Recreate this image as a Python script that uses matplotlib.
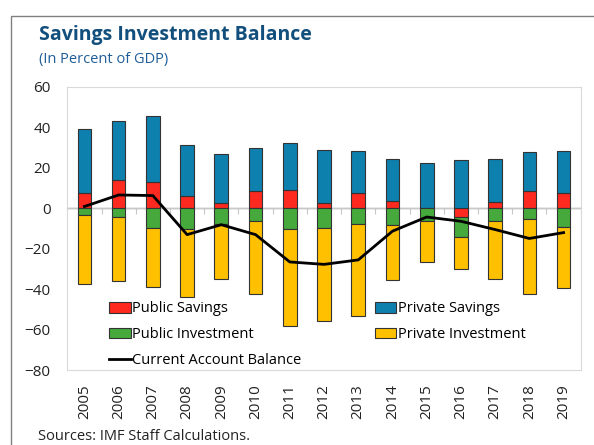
import numpy as np
import matplotlib
matplotlib.use("Agg")
from matplotlib import pyplot as plt
from matplotlib.patches import Rectangle

plt.rcParams['font.family'] = ['Open Sans', 'DejaVu Sans']

years = [str(y) for y in range(2005, 2020)]
public_savings = [7.5, 13.7, 13.0, 5.8, 2.5, 8.5, 9.0, 2.7, 7.5, 3.5, 0.3, -4.5, 3.0, 8.5, 7.5]
private_savings = [31.5, 29.3, 32.5, 25.2, 24.2, 21.0, 23.0, 26.1, 20.7, 20.7, 22.2, 23.8, 21.5, 19.3, 20.7]
public_investment = [-3.5, -4.5, -9.8, -10.1, -7.7, -6.5, -10.1, -9.6, -7.8, -8.5, -6.5, -9.9, -6.5, -5.5, -9.1]
private_investment = [-34.0, -31.4, -29.1, -33.7, -27.1, -35.9, -48.2, -46.2, -45.6, -26.8, -19.9, -15.8, -28.3, -36.9, -30.6]
current_account = [0.8, 6.5, 6.2, -13.1, -8.2, -13.1, -26.6, -27.8, -25.6, -11.4, -4.4, -6.5, -10.6, -15.0, -12.1]

series = [
    ("Public Savings", public_savings, "#ff2a1f"),
    ("Private Savings", private_savings, "#0e80ae"),
    ("Public Investment", public_investment, "#45aa3b"),
    ("Private Investment", private_investment, "#ffc000"),
]

fig = plt.figure(figsize=(5.94, 4.45), dpi=100)
ax = fig.add_axes([67.3 / 594, 1 - 370 / 445, (580.7 - 67.3) / 594, (370 - 86.7) / 445])

x = np.arange(len(years))
pos_base = np.zeros(len(years))
neg_base = np.zeros(len(years))
handles = {}
for name, vals, color in series:
    v = np.array(vals)
    bottom = np.where(v >= 0, pos_base, neg_base)
    b = ax.bar(x, v, width=0.4, bottom=bottom, color=color, edgecolor="#333333",
               linewidth=0.8, label=name, zorder=2)
    handles[name] = b
    pos_base = pos_base + np.where(v >= 0, v, 0)
    neg_base = neg_base + np.where(v < 0, v, 0)

line, = ax.plot(x, current_account, color="black", lw=2, label="Current Account Balance", zorder=3)

ax.axhline(0, color="#c8c8c8", lw=1, zorder=1)
ax.set_xlim(-0.5, len(years) - 0.5)
ax.set_ylim(-80, 60)
ax.set_yticks(range(-80, 61, 20))
ax.set_xticks(x)
ax.set_xticklabels(years, rotation=90)
ax.tick_params(axis='both', length=0, labelsize=11, colors="#222222")
ax.tick_params(axis='x', pad=10)
ax.tick_params(axis='y', pad=12)
for s in ax.spines.values():
    s.set_color("#d9d9d9")

# category ticks sitting on the zero line
sec = ax.secondary_xaxis(80 / 140)
sec.set_xticks(np.arange(0.5, len(years) - 1, 1.0))
sec.set_xticklabels([])
sec.tick_params(direction='in', length=4, color="#c8c8c8")
sec.spines['bottom'].set_visible(False)

hs = [handles["Public Savings"], handles["Public Investment"], line,
      handles["Private Savings"], handles["Private Investment"]]
ls = ["Public Savings", "Public Investment", "Current Account Balance",
      "Private Savings", "Private Investment"]
ax.legend(hs, ls, ncol=2, frameon=False, fontsize=10.5, loc='upper left',
          bbox_to_anchor=(109 / 594, 1 - 301.5 / 445), bbox_transform=fig.transFigure,
          handlelength=1.5, handleheight=0.7, handletextpad=0.1, columnspacing=5.0,
          labelspacing=0.75, borderaxespad=0, borderpad=0)

fig.text(39 / 594, 1 - 35 / 445, "Savings Investment Balance", fontsize=14,
         fontweight='bold', color="#134f7d", va='center')
fig.text(39 / 594, 1 - 60 / 445, "(In Percent of GDP)", fontsize=10.5,
         color="#1f5d99", va='center')
fig.text(38 / 594, 1 - 436 / 445, "Sources: IMF Staff Calculations.", fontsize=10.5,
         color="#222222", va='center')

fig.patches.append(Rectangle((10.5 / 594, -0.1), 1.2, 1.1 - 16 / 445,
                             transform=fig.transFigure, fill=False,
                             edgecolor="#808080", lw=1))

fig.savefig("out.png", dpi=100)
